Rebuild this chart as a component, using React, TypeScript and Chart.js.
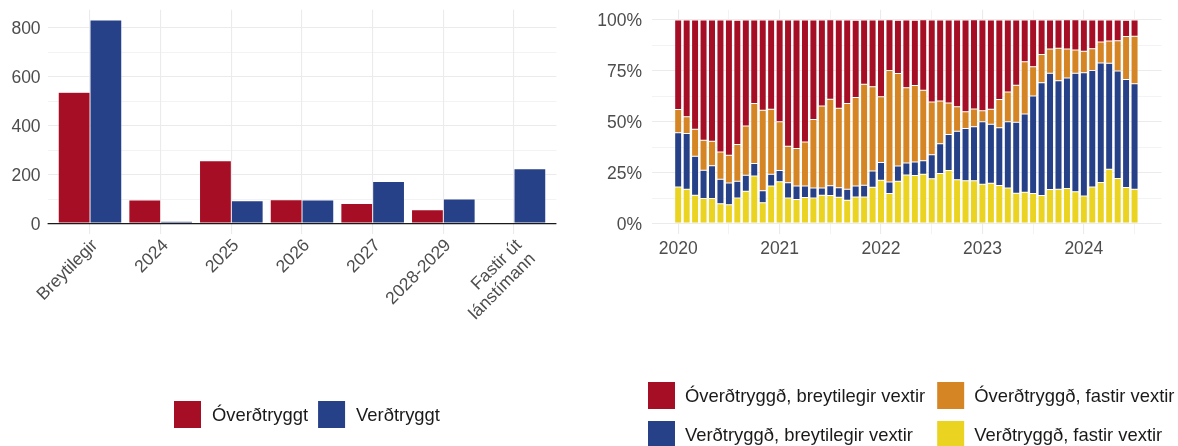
import React, { useEffect, useRef } from 'react';
import { Chart, registerables } from 'chart.js';

Chart.register(...registerables);

const FONT = "'Liberation Sans', Arial, Helvetica, sans-serif";
const AXIS_COLOR = '#4d4d4d';
const AXIS_FONT_SIZE = 17.5;
const LEGEND_FONT_SIZE = 18.4;

// ---------- Left chart: amounts by end of fixed-rate period ----------
const maturityCategories: (string | string[])[] = [
  'Breytilegir', '2024', '2025', '2026', '2027', '2028-2029', ['Fastir út', 'lánstímann'],
];
const overdtryggtValues = [537, 97, 257, 98, 82, 57, 0];
const verdtryggtValues = [833, 10, 94, 97, 172, 101, 224];
const leftSeriesNames = ['Óverðtryggt', 'Verðtryggt'];
const leftTickValues = [0, 100, 200, 300, 400, 500, 600, 700, 800];
const leftLabelStep = 200;

// ---------- Right chart: monthly composition of new loans ----------
const months = [
  '2020-01', '2020-02', '2020-03', '2020-04', '2020-05', '2020-06', '2020-07', '2020-08', '2020-09', '2020-10', '2020-11', '2020-12',
  '2021-01', '2021-02', '2021-03', '2021-04', '2021-05', '2021-06', '2021-07', '2021-08', '2021-09', '2021-10', '2021-11', '2021-12',
  '2022-01', '2022-02', '2022-03', '2022-04', '2022-05', '2022-06', '2022-07', '2022-08', '2022-09', '2022-10', '2022-11', '2022-12',
  '2023-01', '2023-02', '2023-03', '2023-04', '2023-05', '2023-06', '2023-07', '2023-08', '2023-09', '2023-10', '2023-11', '2023-12',
  '2024-01', '2024-02', '2024-03', '2024-04', '2024-05', '2024-06', '2024-07',
];
const overdtryggdBreytilegir = [
  43.9, 47.5, 53.6, 59.0, 59.5, 64.8, 66.4, 61.1, 52.1, 41.0, 44.3, 43.8,
  50.0, 62.0, 63.1, 59.9, 48.9, 42.3, 39.0, 43.4, 41.0, 38.0, 31.5, 32.8,
  37.7, 24.9, 26.2, 33.3, 32.1, 34.6, 40.3, 39.8, 40.8, 42.6, 45.1, 43.8,
  44.6, 43.8, 39.0, 35.4, 32.0, 20.5, 23.1, 17.0, 14.3, 13.9, 14.3, 14.8,
  15.4, 14.1, 10.8, 10.3, 10.2, 8.0, 8.0,
];
const overdtryggdFastir = [
  11.5, 8.2, 13.3, 14.8, 12.1, 13.4, 13.6, 18.0, 24.1, 29.5, 39.5, 32.0,
  23.9, 17.9, 18.4, 21.6, 33.6, 40.2, 42.5, 39.0, 42.1, 43.4, 49.7, 41.3,
  32.3, 54.8, 45.4, 36.9, 37.5, 34.6, 25.9, 21.0, 15.4, 12.0, 8.2, 8.7,
  5.4, 7.4, 13.9, 14.6, 18.2, 25.7, 14.3, 13.8, 11.8, 15.9, 14.3, 11.5,
  10.5, 10.7, 10.3, 11.0, 14.9, 21.1, 23.3,
];
const verdtryggdBreytilegir = [
  26.6, 27.4, 19.2, 13.9, 16.1, 12.0, 10.7, 8.2, 7.9, 6.1, 5.9, 5.7,
  5.6, 7.5, 6.7, 5.7, 4.9, 3.6, 4.8, 4.6, 5.4, 5.4, 5.7, 8.0,
  8.7, 5.6, 7.5, 5.9, 6.7, 6.6, 11.8, 14.6, 17.7, 23.8, 25.7, 26.6,
  30.7, 29.0, 28.4, 32.5, 34.9, 38.4, 47.9, 55.4, 57.2, 53.3, 54.3, 58.2,
  60.5, 57.2, 58.7, 52.0, 52.8, 53.1, 51.8,
];
const verdtryggdFastir = [
  18.0, 16.9, 13.9, 12.3, 12.3, 9.8, 9.3, 12.6, 15.9, 23.4, 10.3, 18.5,
  20.5, 12.6, 11.8, 12.8, 12.6, 13.9, 13.8, 13.0, 11.5, 13.1, 13.1, 17.9,
  21.3, 14.8, 20.8, 23.9, 23.6, 24.3, 22.0, 24.6, 26.1, 21.6, 21.0, 21.0,
  19.3, 19.8, 18.7, 17.5, 14.9, 15.4, 14.8, 13.8, 16.7, 16.9, 17.2, 15.6,
  13.6, 18.0, 20.2, 26.7, 22.1, 17.7, 16.9,
];
const rightSeriesNames = [
  'Óverðtryggð, breytilegir vextir',
  'Óverðtryggð, fastir vextir',
  'Verðtryggð, breytilegir vextir',
  'Verðtryggð, fastir vextir',
];
const rightPercentTicks = [0, 12.5, 25, 37.5, 50, 62.5, 75, 87.5, 100];
const firstYear = 2020;

const RED = '#a50e24';
const BLUE = '#264187';
const ORANGE = '#d68524';
const YELLOW = '#ebd322';

const GRID_MAJOR = '#ebebeb';

const monthIndex = (m: string) => {
  const [y, mo] = m.split('-').map(Number);
  return (y - firstYear) * 12 + (mo - 1);
};

// custom legend laid out in a grid (like ggplot's legend)
const gridLegend = {
  id: 'gridLegend',
  afterDraw(chart: any, _args: any, opts: any) {
    if (!opts || !opts.items) return;
    const { ctx } = chart;
    ctx.save();
    ctx.font = `${LEGEND_FONT_SIZE}px ${FONT}`;
    const items = opts.items as { text: string; color: string }[];
    const cols = opts.cols;
    const colWidths: number[] = [];
    items.forEach((it, i) => {
      const c = i % cols;
      const w = opts.box + opts.gap + ctx.measureText(it.text).width;
      colWidths[c] = Math.max(colWidths[c] || 0, w);
    });
    items.forEach((it, i) => {
      const c = i % cols;
      const r = Math.floor(i / cols);
      let x = opts.x0;
      for (let k = 0; k < c; k++) x += colWidths[k] + opts.spacing;
      const y = opts.top + r * opts.rowPitch;
      ctx.fillStyle = it.color;
      ctx.fillRect(x, y, opts.box, opts.box);
      ctx.fillStyle = '#1a1a1a';
      ctx.textAlign = 'left';
      ctx.textBaseline = 'middle';
      ctx.fillText(it.text, x + opts.box + opts.gap, y + opts.box / 2 + 1);
    });
    ctx.restore();
  },
};

const zeroLine = {
  id: 'zeroLine',
  afterDatasetsDraw(chart: any) {
    const { ctx, chartArea, scales } = chart;
    const y = scales.y.getPixelForValue(0);
    ctx.save();
    ctx.strokeStyle = '#1a1a1a';
    ctx.lineWidth = 1.3;
    ctx.beginPath();
    ctx.moveTo(chartArea.left, y);
    ctx.lineTo(chartArea.right, y);
    ctx.stroke();
    ctx.restore();
  },
};

const W = 589;
const H = 446;
const PANEL_TOP = 9.8;
const PANEL_BOTTOM = 233.8;

const fixX = (s: any) => {
  s.height = H - PANEL_BOTTOM;
  s.paddingLeft = 0;
  s.paddingRight = 0;
};

function LeftChart() {
  const ref = useRef<HTMLCanvasElement | null>(null);
  useEffect(() => {
    if (!ref.current) return;
    const maxVal = Math.max(...overdtryggtValues, ...verdtryggtValues);
    const pad = maxVal * 0.05;
    const barStyle = {
      borderColor: 'rgba(255,255,255,0.5)',
      borderWidth: 0.5,
      borderSkipped: false,
      categoryPercentage: 0.9,
      barPercentage: 1,
    };
    const chart = new Chart(ref.current, {
      type: 'bar',
      data: {
        datasets: [
          {
            label: leftSeriesNames[0],
            data: overdtryggtValues.map((v, i) => ({ x: i, y: v })),
            backgroundColor: RED,
            ...barStyle,
          },
          {
            label: leftSeriesNames[1],
            data: verdtryggtValues.map((v, i) => ({ x: i, y: v })),
            backgroundColor: BLUE,
            ...barStyle,
          },
        ],
      } as any,
      options: {
        animation: false,
        responsive: false,
        maintainAspectRatio: false,
        layout: { padding: { top: PANEL_TOP, right: 32.6, bottom: 0, left: 0 } },
        plugins: {
          legend: { display: false },
          tooltip: { enabled: false },
          gridLegend: {
            items: leftSeriesNames.map((t, i) => ({ text: t, color: i === 0 ? RED : BLUE })),
            cols: 2,
            x0: 174,
            top: 401,
            box: 27,
            gap: 11,
            spacing: 10,
            rowPitch: 39,
          },
        } as any,
        scales: {
          x: {
            type: 'linear',
            min: -0.6,
            max: maturityCategories.length - 0.4,
            offset: false,
            afterBuildTicks: (s: any) => {
              s.ticks = maturityCategories.map((_, i) => ({ value: i }));
            },
            afterFit: fixX,
            ticks: {
              autoSkip: false,
              minRotation: 45,
              maxRotation: 45,
              padding: 2,
              labelOffset: 5,
              color: AXIS_COLOR,
              font: { family: FONT, size: AXIS_FONT_SIZE, lineHeight: 1.1 },
              callback: (v: any) => maturityCategories[Math.round(v)] as any,
            },
            grid: { color: GRID_MAJOR, lineWidth: 1.1, drawTicks: false, offset: false },
            border: { display: false },
          },
          y: {
            min: -pad,
            max: maxVal + pad,
            afterBuildTicks: (s: any) => {
              s.ticks = leftTickValues.map((v) => ({ value: v }));
            },
            afterFit: (s: any) => {
              s.width = 47.6;
              s.paddingTop = 0;
              s.paddingBottom = 0;
            },
            ticks: {
              padding: 7,
              labelOffset: 1.5,
              color: AXIS_COLOR,
              font: { family: FONT, size: AXIS_FONT_SIZE },
              callback: (v: any) => (v % leftLabelStep === 0 ? String(v) : ''),
            },
            grid: {
              color: GRID_MAJOR,
              lineWidth: (c: any) => (c.tick && c.tick.value % leftLabelStep === 0 ? 1.1 : 0.6),
              drawTicks: false,
            },
            border: { display: false },
          },
        } as any,
      },
      plugins: [zeroLine, gridLegend],
    });
    return () => chart.destroy();
  }, []);
  return <canvas ref={ref} width={W} height={H} style={{ width: W, height: H, display: 'block' }} />;
}

function RightChart() {
  const ref = useRef<HTMLCanvasElement | null>(null);
  useEffect(() => {
    if (!ref.current) return;
    const xs = months.map(monthIndex);
    const mk = (label: string, values: number[], color: string) => ({
      label,
      data: values.map((v, i) => ({ x: xs[i], y: v })),
      backgroundColor: color,
      borderColor: 'rgba(255,255,255,0.7)',
      borderWidth: 0.5,
      borderSkipped: false,
      categoryPercentage: 1,
      barPercentage: 0.83,
    });
    const lastX = xs[xs.length - 1];
    const gridMonths: number[] = [];
    for (let m = 0; m <= lastX; m += 6) gridMonths.push(m);
    const chart = new Chart(ref.current, {
      type: 'bar',
      data: {
        datasets: [
          mk(rightSeriesNames[3], verdtryggdFastir, YELLOW),
          mk(rightSeriesNames[2], verdtryggdBreytilegir, BLUE),
          mk(rightSeriesNames[1], overdtryggdFastir, ORANGE),
          mk(rightSeriesNames[0], overdtryggdBreytilegir, RED),
        ],
      } as any,
      options: {
        animation: false,
        responsive: false,
        maintainAspectRatio: false,
        layout: { padding: { top: PANEL_TOP, right: 16.4, bottom: 0, left: 0 } },
        plugins: {
          legend: { display: false },
          tooltip: { enabled: false },
          gridLegend: {
            items: rightSeriesNames.map((t, i) => ({ text: t, color: [RED, ORANGE, BLUE, YELLOW][i] })),
            cols: 2,
            x0: 59,
            top: 382,
            box: 27,
            gap: 10,
            spacing: 12,
            rowPitch: 39,
          },
        } as any,
        scales: {
          x: {
            type: 'linear',
            stacked: true,
            min: -3.1,
            max: 57.2,
            offset: false,
            afterBuildTicks: (s: any) => {
              s.ticks = gridMonths.map((v) => ({ value: v }));
            },
            afterFit: fixX,
            ticks: {
              autoSkip: false,
              minRotation: 0,
              maxRotation: 0,
              padding: 5,
              color: AXIS_COLOR,
              font: { family: FONT, size: AXIS_FONT_SIZE },
              callback: (v: any) => (v % 12 === 0 ? String(firstYear + v / 12) : ''),
            },
            grid: {
              color: GRID_MAJOR,
              lineWidth: (c: any) => (c.tick && c.tick.value % 12 === 0 ? 1.1 : 0.6),
              drawTicks: false,
              offset: false,
            },
            border: { display: false },
          },
          y: {
            stacked: true,
            min: -5,
            max: 105,
            afterBuildTicks: (s: any) => {
              s.ticks = rightPercentTicks.map((v) => ({ value: v }));
            },
            afterFit: (s: any) => {
              s.width = 63;
              s.paddingTop = 0;
              s.paddingBottom = 0;
            },
            ticks: {
              padding: 10,
              labelOffset: 1.5,
              color: AXIS_COLOR,
              font: { family: FONT, size: AXIS_FONT_SIZE },
              callback: (v: any) => (v % 25 === 0 ? `${v}%` : ''),
            },
            grid: {
              color: GRID_MAJOR,
              lineWidth: (c: any) => (c.tick && c.tick.value % 25 === 0 ? 1.1 : 0.6),
              drawTicks: false,
            },
            border: { display: false },
          },
        } as any,
      },
      plugins: [gridLegend],
    });
    return () => chart.destroy();
  }, []);
  return <canvas ref={ref} width={W} height={H} style={{ width: W, height: H, display: 'block' }} />;
}

export default function App() {
  useEffect(() => {
    document.body.style.margin = '0';
    document.body.style.overflow = 'hidden';
    document.body.style.background = '#ffffff';
  }, []);
  return (
    <div style={{ position: 'absolute', left: 0, top: 0, width: 1178, height: 446, display: 'flex', background: '#fff', overflow: 'hidden' }}>
      <LeftChart />
      <RightChart />
    </div>
  );
}
